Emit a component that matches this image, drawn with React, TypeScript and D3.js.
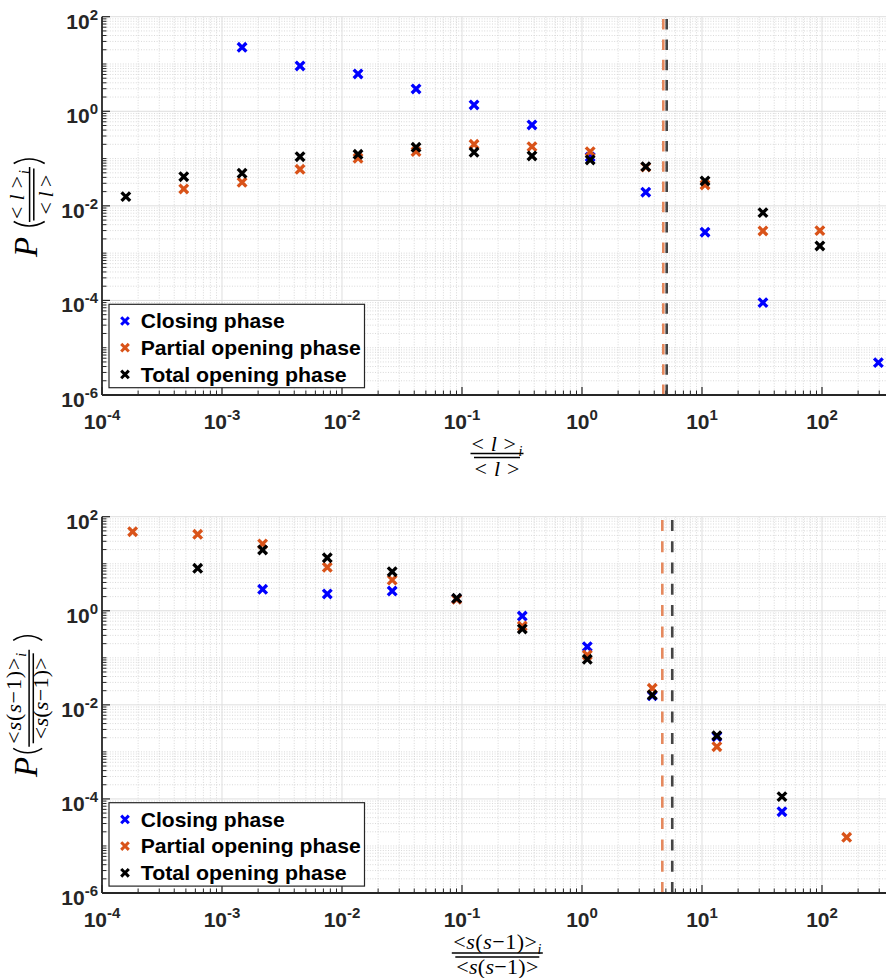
import React from "react";
import * as d3 from "d3";

const W = 886;
const H = 978;

const seriesNames = ["Closing phase", "Partial opening phase", "Total opening phase"];
const legendWidths = [144, 220, 206];
const seriesColors = ["#0000FF", "#D95319", "#000000"];
const meanColors = ["#E5895E", "#444444"];

// ---- Top panel: <l>_i / <l>
const topClosingX = [1.47e-3, 4.47e-3, 0.0136, 0.0414, 0.126, 0.383, 1.17, 3.4, 10.6, 32.2, 295];
const topClosingY = [22.5, 9.08, 6.15, 2.96, 1.36, 0.513, 0.108, 0.0194, 0.00277, 8.97e-5, 4.84e-6];
const topPartialX = [4.8e-4, 1.47e-3, 4.47e-3, 0.0136, 0.0414, 0.126, 0.383, 1.17, 3.4, 10.6, 32.2, 96];
const topPartialY = [0.0228, 0.0315, 0.0594, 0.1015, 0.14, 0.2, 0.179, 0.14, 0.066, 0.0277, 0.00294, 0.00299];
const topTotalX = [1.58e-4, 4.8e-4, 1.47e-3, 4.47e-3, 0.0136, 0.0414, 0.126, 0.383, 1.17, 3.4, 10.6, 32.2, 96];
const topTotalY = [0.01567, 0.0414, 0.0489, 0.1096, 0.123, 0.173, 0.136, 0.1135, 0.0933, 0.0675, 0.0336, 0.00718, 0.00142];
const topMeans = [4.76, 5.08];

// ---- Bottom panel: <s(s-1)>_i / <s(s-1)>
const botClosingX = [2.18e-3, 7.54e-3, 0.0262, 0.0903, 0.318, 1.107, 3.85, 13.3, 46.4];
const botClosingY = [2.86, 2.28, 2.63, 1.8, 0.774, 0.172, 0.0155, 0.0021, 5.36e-5];
const botPartialX = [1.8e-4, 6.27e-4, 2.18e-3, 7.54e-3, 0.0262, 0.0903, 0.318, 1.107, 3.85, 13.3, 160.6];
const botPartialY = [48, 42.3, 26.3, 8.4, 4.51, 1.75, 0.474, 0.115, 0.0225, 0.00129, 1.53e-5];
const botTotalX = [6.27e-4, 2.18e-3, 7.54e-3, 0.0262, 0.0903, 0.318, 1.107, 3.85, 13.3, 46.4];
const botTotalY = [8.0, 19.6, 13.4, 6.78, 1.84, 0.41, 0.093, 0.0162, 0.00221, 1.12e-4];
const botMeans = [4.67, 5.65];

const xTickExps = [-4, -3, -2, -1, 0, 1, 2];
const yTickExps = [-6, -4, -2, 0, 2];
const xDomain = [1e-4, 341.5];
const yDomain = [1e-6, 1e2];

const AX = "#262626";
const SANS = "'Liberation Sans', Arial, Helvetica, sans-serif";
const SERIF = "'Liberation Serif', 'Times New Roman', serif";

function crossPath(x: number, y: number, r: number) {
  return `M${x - r},${y - r}L${x + r},${y + r}M${x - r},${y + r}L${x + r},${y - r}`;
}

type PanelProps = {
  top: number;
  bottom: number;
  left: number;
  right: number;
  xs: number[][];
  ys: number[][];
  means: number[];
  legendTop: number;
  dash: string;
};

function Panel({ top, bottom, left, right, xs, ys, means, legendTop, dash }: PanelProps) {
  const x = d3.scaleLog().domain(xDomain).range([left, right]);
  const y = d3.scaleLog().domain(yDomain).range([bottom, top]);

  const xMajor = xTickExps.map((e) => Math.pow(10, e));
  const xMinor: number[] = [];
  for (let e = -4; e <= 2; e++) for (let m = 2; m <= 9; m++) {
    const v = m * Math.pow(10, e);
    if (v <= xDomain[1]) xMinor.push(v);
  }
  const yMajor = yTickExps.map((e) => Math.pow(10, e));
  const yMinor: number[] = [];
  for (let e = -6; e <= 1; e++) {
    if (e % 2 !== 0) yMinor.push(Math.pow(10, e));
    for (let m = 2; m <= 9; m++) yMinor.push(m * Math.pow(10, e));
  }

  return (
    <g>
      {xMinor.map((v, i) => (
        <line key={"xm" + i} x1={x(v)} x2={x(v)} y1={top} y2={bottom} stroke="#cfcfcf" strokeWidth={0.8} strokeDasharray="1 1.6" />
      ))}
      {yMinor.map((v, i) => (
        <line key={"ym" + i} x1={left} x2={right} y1={y(v)} y2={y(v)} stroke="#cfcfcf" strokeWidth={0.8} strokeDasharray="1 1.6" />
      ))}
      {xMajor.map((v, i) => (
        <line key={"xg" + i} x1={x(v)} x2={x(v)} y1={top} y2={bottom} stroke="#dedede" strokeWidth={1} />
      ))}
      {yMajor.map((v, i) => (
        <line key={"yg" + i} x1={left} x2={right} y1={y(v)} y2={y(v)} stroke="#dedede" strokeWidth={1} />
      ))}
      {means.map((m, i) => (
        <line key={"mean" + i} x1={x(m)} x2={x(m)} y1={bottom} y2={top} stroke={meanColors[i]} strokeWidth={2.6} strokeDasharray={dash} />
      ))}
      {xs.map((sx, si) => (
        <path
          key={"s" + si}
          d={sx.map((v, i) => crossPath(x(v), y(ys[si][i]), 4.3)).join("")}
          stroke={seriesColors[si]}
          strokeWidth={3.3}
          fill="none"
        />
      ))}
      {xMajor.map((v, i) => (
        <line key={"xt" + i} x1={x(v)} x2={x(v)} y1={bottom} y2={bottom - 8} stroke={AX} strokeWidth={1.2} />
      ))}
      {xMinor.map((v, i) => (
        <line key={"xtm" + i} x1={x(v)} x2={x(v)} y1={bottom} y2={bottom - 4.5} stroke={AX} strokeWidth={1} />
      ))}
      {yMajor.map((v, i) => (
        <line key={"yt" + i} x1={left} x2={left + 8} y1={y(v)} y2={y(v)} stroke={AX} strokeWidth={1.2} />
      ))}
      {yMinor.map((v, i) => (
        <line key={"ytm" + i} x1={left} x2={left + 4.5} y1={y(v)} y2={y(v)} stroke={AX} strokeWidth={1} />
      ))}
      <line x1={left} x2={right} y1={bottom} y2={bottom} stroke={AX} strokeWidth={1.8} />
      <line x1={left} x2={left} y1={top} y2={bottom} stroke={AX} strokeWidth={1.8} />
      {xTickExps.map((e, i) => (
        <text key={"xl" + i} x={x(Math.pow(10, e))} y={bottom + 34} textAnchor="middle" fontFamily={SANS} fontWeight="bold" fontSize={21} fill={AX}>
          <tspan>10</tspan>
          <tspan fontSize={15} dy={-9}>{String(e)}</tspan>
        </text>
      ))}
      {yTickExps.map((e, i) => (
        <text key={"yl" + i} x={98} y={y(Math.pow(10, e)) + 12} textAnchor="end" fontFamily={SANS} fontWeight="bold" fontSize={21} fill={AX}>
          <tspan>10</tspan>
          <tspan fontSize={15} dy={-9}>{String(e)}</tspan>
        </text>
      ))}
      <g>
        <rect x={109} y={legendTop} width={255.5} height={83.4} fill="#ffffff" stroke={AX} strokeWidth={1.2} />
        {seriesNames.map((name, i) => {
          const cy = legendTop + 16.7 + i * 26.7;
          return (
            <g key={"lg" + i}>
              <path d={crossPath(125, cy, 3.8)} stroke={seriesColors[i]} strokeWidth={3} fill="none" />
              <text x={140.7} y={cy + 7.2} fontFamily={SANS} fontWeight="bold" fontSize={20.5} fill="#000" textLength={legendWidths[i]} lengthAdjust="spacingAndGlyphs">
                {name}
              </text>
            </g>
          );
        })}
      </g>
    </g>
  );
}

function Bars({ up, low }: { up: number; low: number }) {
  return (
    <g stroke="#000" strokeWidth={1.5}>
      <line x1={-up / 2} x2={up / 2} y1={-2.1} y2={-2.1} />
      <line x1={-low / 2} x2={low / 2} y1={2.1} y2={2.1} />
    </g>
  );
}

function LNum({ y, len }: { y: number; len: number }) {
  return (
    <text x={0} y={y} textAnchor="middle" fontFamily={SERIF} fontSize={22} fill="#000" textLength={len} lengthAdjust="spacing">
      <tspan>&lt;</tspan>
      <tspan fontStyle="italic" dx={4}>l</tspan>
      <tspan dx={4}>&gt;</tspan>
      <tspan fontStyle="italic" fontSize={14} dy={5}>i</tspan>
    </text>
  );
}
function LDen({ y, len }: { y: number; len: number }) {
  return (
    <text x={0} y={y} textAnchor="middle" fontFamily={SERIF} fontSize={22} fill="#000" textLength={len} lengthAdjust="spacing">
      <tspan>&lt;</tspan>
      <tspan fontStyle="italic" dx={4}>l</tspan>
      <tspan dx={4}>&gt;</tspan>
    </text>
  );
}
function SNum({ y, len }: { y: number; len: number }) {
  return (
    <text x={0} y={y} textAnchor="middle" fontFamily={SERIF} fontSize={22} fill="#000" textLength={len} lengthAdjust="spacing">
      <tspan>&lt;</tspan>
      <tspan fontStyle="italic">s</tspan>
      <tspan>(</tspan>
      <tspan fontStyle="italic">s</tspan>
      <tspan>−1)&gt;</tspan>
      <tspan fontStyle="italic" fontSize={14} dy={5}>i</tspan>
    </text>
  );
}
function SDen({ y, len }: { y: number; len: number }) {
  return (
    <text x={0} y={y} textAnchor="middle" fontFamily={SERIF} fontSize={22} fill="#000" textLength={len} lengthAdjust="spacing">
      <tspan>&lt;</tspan>
      <tspan fontStyle="italic">s</tspan>
      <tspan>(</tspan>
      <tspan fontStyle="italic">s</tspan>
      <tspan>−1)&gt;</tspan>
    </text>
  );
}

function Parens({ l, r, t, b }: { l: number; r: number; t: number; b: number }) {
  const m = (t + b) / 2;
  return (
    <g stroke="#000" strokeWidth={1.5} fill="none">
      <path d={`M${l + 4},${t}Q${l - 5},${m} ${l + 4},${b}`} />
      <path d={`M${r - 4},${t}Q${r + 5},${m} ${r - 4},${b}`} />
    </g>
  );
}

export default function App() {
  const left = 102;
  const right = 886;
  return (
    <svg width={W} height={H} style={{ position: "absolute", left: 0, top: 0, background: "#fff" }}>
      <rect x={0} y={0} width={W} height={H} fill="#fff" />
      <Panel
        top={16.7}
        bottom={395}
        left={left}
        right={right}
        xs={[topClosingX, topPartialX, topTotalX]}
        ys={[topClosingY, topPartialY, topTotalY]}
        means={topMeans}
        legendTop={304.3}
        dash="10.5 9.8"
      />
      <Panel
        top={516.7}
        bottom={893}
        left={left}
        right={right}
        xs={[botClosingX, botPartialX, botTotalX]}
        ys={[botClosingY, botPartialY, botTotalY]}
        means={botMeans}
        legendTop={802.7}
        dash="11 10.3"
      />

      <g transform="translate(497,455.5)">
        <LNum y={-5} len={51} />
        <Bars up={53} low={46} />
        <LDen y={20.5} len={45} />
      </g>
      <g transform="translate(497.3,955)">
        <SNum y={-6} len={88} />
        <Bars up={91} low={84} />
        <SDen y={19} len={82} />
      </g>

      <g transform="translate(31.7,194.5) rotate(-90)">
        <text x={-62.5} y={5.6} fontFamily={SERIF} fontStyle="italic" fontSize={33} fill="#000">P</text>
        <Parens l={-31} r={35} t={-18} b={13} />
        <LNum y={-7.5} len={49} />
        <Bars up={55} low={52} />
        <LDen y={21} len={40} />
      </g>
      <g transform="translate(31.2,698.3) rotate(-90)">
        <text x={-78.7} y={5.5} fontFamily={SERIF} fontStyle="italic" fontSize={33} fill="#000">P</text>
        <Parens l={-54} r={62} t={-18} b={11} />
        <SNum y={-10} len={91} />
        <Bars up={97} low={90} />
        <SDen y={17} len={82} />
      </g>
    </svg>
  );
}
